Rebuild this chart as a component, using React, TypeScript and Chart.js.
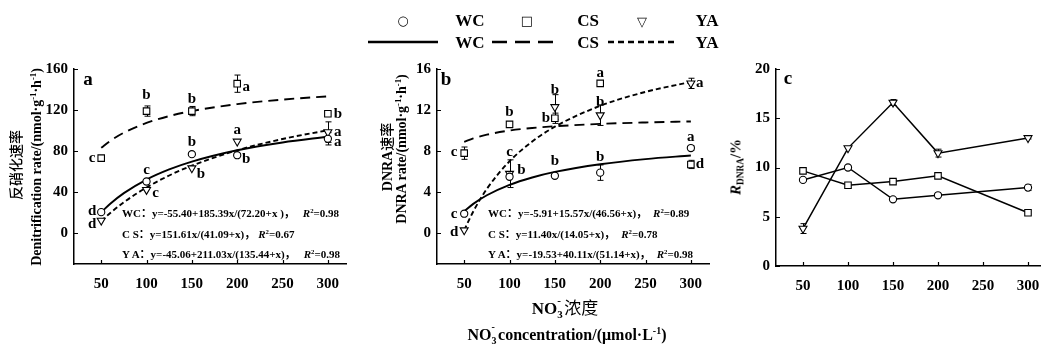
import React, { useEffect, useRef } from "react";
import { Chart, registerables } from "chart.js";
Chart.register(...registerables);

// ---------------- data ----------------
const concentrations = [50, 100, 150, 200, 300];
const xTickValues = [50, 100, 150, 200, 250, 300];

// panel a: denitrification rate (nmol g-1 h-1)
const denitWC = [20.5, 50.4, 77, 76, 92];
const denitCS = [73.2, 119, 119, 145.7, 116.4];
const denitYA = [12.4, 42.3, 63.4, 89.4, 98.5];
const denitErrWC = [0, 0, 0, 0, 6];
const denitErrCS = [0, 5, 4.5, 8.4, 0];
const denitErrYA = [0, 0, 0, 0, 10];
const denitTicks = [0, 40, 80, 120, 160];

// fitted curves read along x
const fitX = [50, 60, 75, 100, 125, 150, 200, 250, 300];
const denitFitWC = [20.45, 28.74, 39.06, 52.26, 62.12, 69.75, 80.82, 88.44, 94.03];
const denitFitCS = [83.22, 89.99, 97.95, 107.45, 114.1, 119.01, 125.77, 130.21, 133.35];
const denitFitYA = [11.84, 19.73, 30.15, 44.57, 56.23, 65.84, 80.76, 91.82, 100.33];

// panel b: DNRA rate
const dnraWC = [1.9, 5.5, 5.6, 5.9, 8.3];
const dnraCS = [7.8, 10.6, 11.2, 14.6, 6.7];
const dnraYA = [0.3, 5.8, 12.3, 11.5, 14.6];
const dnraErrWC = [0, 0, 0, 0.75, 0.2];
const dnraErrCS = [0.6, 0, 0.5, 0, 0.4];
const dnraErrYA = [0, 1.35, 1.2, 1.0, 0.5];
const dnraTicks = [0, 4, 8, 12, 16];
const dnraFitWC = [2.15, 2.86, 3.7, 4.71, 5.43, 5.97, 6.72, 7.22, 7.57];
const dnraFitCS = [8.9, 9.24, 9.6, 10.0, 10.25, 10.42, 10.65, 10.79, 10.89];
const dnraFitYA = [0.3, 2.12, 4.32, 7.01, 8.93, 10.38, 12.41, 13.77, 14.74];

// panel c: R_DNRA (%)
const rWC = [8.74, 10.0, 6.77, 7.18, 7.96];
const rCS = [9.66, 8.2, 8.57, 9.15, 5.4];
const rYA = [3.8, 11.97, 16.6, 11.46, 13.0];
const rErrWC = [0, 0, 0, 0, 0.3];
const rErrCS = [0, 0, 0, 0, 0];
const rErrYA = [0.5, 0, 0.3, 0.4, 0.1];
const rTicks = [0, 5, 10, 15, 20];

// significance letters
const lettersDenitWC = ["d", "c", "b", "b", "a"];
const lettersDenitCS = ["c", "b", "b", "a", "b"];
const lettersDenitYA = ["d", "c", "b", "a", "a"];
const lettersDnraWC = ["c", "b", "b", "b", "a"];
const lettersDnraCS = ["c", "b", "b", "a", "d"];
const lettersDnraYA = ["d", "c", "b", "b", "a"];

// equations
const eqDenit = [
  ["WC：y=-55.40+185.39x/(72.20+x )，", "0.98"],
  ["C S：y=151.61x/(41.09+x)，", "0.67"],
  ["Y A：y=-45.06+211.03x/(135.44+x)，", "0.98"],
];
const eqDnra = [
  ["WC：y=-5.91+15.57x/(46.56+x)，", "0.89"],
  ["C S：y=11.40x/(14.05+x)，", "0.78"],
  ["Y A：y=-19.53+40.11x/(51.14+x)，", "0.98"],
];

// ---------------- layout (pixel offsets of letters) ----------------
const offDenitWC = [[-9, -1], [0, -11], [0, -12], [9, 4], [10, 3]];
const offDenitCS = [[-9, 0], [0, -16], [0, -12], [9, 3], [10, 0]];
const offDenitYA = [[-9, 4], [9, 3], [9, 6], [0, -11], [10, 0]];
const offDnraWC = [[-10, 0], [12, -7], [0, -15], [0, -16], [0, -11]];
const offDnraCS = [[-10, -1], [0, -12], [-9, 0], [0, -10], [9, 0]];
const offDnraYA = [[-10, 2], [0, -22], [0, -17], [0, -13], [9, 0]];

const SERIF = '"Liberation Serif", "Times New Roman", "Noto Sans CJK SC", serif';
const CJK = '"Noto Sans CJK SC", sans-serif';

type ErrSpec = { vals: number[]; errs: number[] };
type LetterSpec = { vals: number[]; letters: string[]; offs: number[][] };

function makeOverlay(errors: ErrSpec[], letters: LetterSpec[]) {
  return {
    id: "overlay",
    beforeDatasetsDraw(chart: any) {
      const ctx = chart.ctx;
      const xs = chart.scales.x;
      const ys = chart.scales.y;
      ctx.save();
      ctx.strokeStyle = "#000";
      ctx.lineWidth = 1;
      errors.forEach((e) => {
        e.vals.forEach((v, i) => {
          const err = e.errs[i];
          if (!err) return;
          const px = Math.round(xs.getPixelForValue(concentrations[i])) + 0.5;
          const y1 = ys.getPixelForValue(v + err);
          const y2 = ys.getPixelForValue(v - err);
          ctx.beginPath();
          ctx.moveTo(px, y1);
          ctx.lineTo(px, y2);
          ctx.moveTo(px - 3, y1);
          ctx.lineTo(px + 3, y1);
          ctx.moveTo(px - 3, y2);
          ctx.lineTo(px + 3, y2);
          ctx.stroke();
        });
      });
      ctx.restore();
    },
    afterDraw(chart: any) {
      const ctx = chart.ctx;
      const xs = chart.scales.x;
      const ys = chart.scales.y;
      const area = chart.chartArea;
      ctx.save();
      ctx.strokeStyle = "#000";
      ctx.lineWidth = 1.2;
      ctx.beginPath();
      xs.ticks.forEach((t: any) => {
        const px = Math.round(xs.getPixelForValue(t.value)) + 0.5;
        ctx.moveTo(px, area.bottom);
        ctx.lineTo(px, area.bottom - 4);
      });
      ys.ticks.forEach((t: any) => {
        const py = Math.round(ys.getPixelForValue(t.value)) + 0.5;
        ctx.moveTo(area.left, py);
        ctx.lineTo(area.left + 4, py);
      });
      ctx.stroke();
      ctx.fillStyle = "#000";
      ctx.font = `bold 15px ${SERIF}`;
      ctx.textAlign = "center";
      ctx.textBaseline = "middle";
      letters.forEach((l) => {
        l.vals.forEach((v, i) => {
          const px = xs.getPixelForValue(concentrations[i]) + l.offs[i][0];
          const py = ys.getPixelForValue(v) + l.offs[i][1];
          ctx.fillText(l.letters[i], px, py);
        });
      });
      ctx.restore();
    },
  };
}

const tickFont = { family: SERIF, size: 15, weight: "bold" as const };

function pointSet(vals: number[], style: string, line: boolean) {
  const isTri = style === "triangle";
  return {
    data: concentrations.map((x, i) => ({ x, y: vals[i] })),
    pointStyle: style,
    pointRotation: isTri ? 180 : 0,
    pointRadius: style === "circle" ? 3.6 : 4.6,
    pointBorderWidth: 1.1,
    pointBackgroundColor: "#fff",
    pointBorderColor: "#000",
    showLine: line,
    borderColor: "#000",
    borderWidth: 1.5,
  };
}

function curveSet(vals: number[], dash: number[]) {
  return {
    data: fitX.map((x, i) => ({ x, y: vals[i] })),
    showLine: true,
    pointRadius: 0,
    borderColor: "#000",
    borderWidth: 1.9,
    borderDash: dash,
    cubicInterpolationMode: "monotone" as const,
  };
}

function makeConfig(opts: {
  datasets: any[];
  yMin: number;
  yMax: number;
  yTicks: number[];
  pad: { left: number; right: number; top: number; bottom: number };
  errors: ErrSpec[];
  letters: LetterSpec[];
}) {
  return {
    type: "scatter" as const,
    data: { datasets: opts.datasets },
    plugins: [makeOverlay(opts.errors, opts.letters)],
    options: {
      animation: false as const,
      responsive: false,
      devicePixelRatio: 1,
      layout: { padding: opts.pad },
      plugins: { legend: { display: false }, tooltip: { enabled: false } },
      events: [],
      scales: {
        x: {
          type: "linear" as const,
          min: 20,
          max: 320,
          afterBuildTicks: (s: any) => {
            s.ticks = xTickValues.map((v) => ({ value: v }));
          },
          afterFit: (s: any) => {
            s.height = 30;
          },
          grid: { display: false, drawTicks: false },
          border: { display: true, color: "#000", width: 1.5 },
          ticks: { color: "#000", font: tickFont, padding: 11, maxRotation: 0 },
        },
        y: {
          type: "linear" as const,
          min: opts.yMin,
          max: opts.yMax,
          afterBuildTicks: (s: any) => {
            s.ticks = opts.yTicks.map((v) => ({ value: v }));
          },
          afterFit: (s: any) => {
            s.width = 40;
          },
          grid: { display: false, drawTicks: false },
          border: { display: true, color: "#000", width: 1.5 },
          ticks: { color: "#000", font: tickFont, padding: 6 },
        },
      },
    },
  };
}

function Panel({ left, width, build }: { left: number; width: number; build: () => any }) {
  const ref = useRef<HTMLCanvasElement>(null);
  useEffect(() => {
    const chart = new Chart(ref.current as HTMLCanvasElement, build());
    return () => chart.destroy();
  }, []);
  return (
    <canvas
      ref={ref}
      width={width}
      height={347}
      style={{ position: "absolute", left, top: 0, width, height: 347 }}
    />
  );
}

const buildA = () =>
  makeConfig({
    datasets: [
      pointSet(denitWC, "circle", false),
      pointSet(denitCS, "rect", false),
      pointSet(denitYA, "triangle", false),
      curveSet(denitFitWC, []),
      curveSet(denitFitCS, [10, 6]),
      curveSet(denitFitYA, [5, 3]),
    ],
    yMin: -30,
    yMax: 160,
    yTicks: denitTicks,
    pad: { left: 34, right: 14, top: 69, bottom: 53 },
    errors: [
      { vals: denitWC, errs: denitErrWC },
      { vals: denitCS, errs: denitErrCS },
      { vals: denitYA, errs: denitErrYA },
    ],
    letters: [
      { vals: denitWC, letters: lettersDenitWC, offs: offDenitWC },
      { vals: denitCS, letters: lettersDenitCS, offs: offDenitCS },
      { vals: denitYA, letters: lettersDenitYA, offs: offDenitYA },
    ],
  });

const buildB = () =>
  makeConfig({
    datasets: [
      pointSet(dnraWC, "circle", false),
      pointSet(dnraCS, "rect", false),
      pointSet(dnraYA, "triangle", false),
      curveSet(dnraFitWC, []),
      curveSet(dnraFitCS, [10, 6]),
      curveSet(dnraFitYA, [5, 3]),
    ],
    yMin: -3,
    yMax: 16,
    yTicks: dnraTicks,
    pad: { left: 37, right: 11, top: 69, bottom: 53 },
    errors: [
      { vals: dnraWC, errs: dnraErrWC },
      { vals: dnraCS, errs: dnraErrCS },
      { vals: dnraYA, errs: dnraErrYA },
    ],
    letters: [
      { vals: dnraWC, letters: lettersDnraWC, offs: offDnraWC },
      { vals: dnraCS, letters: lettersDnraCS, offs: offDnraCS },
      { vals: dnraYA, letters: lettersDnraYA, offs: offDnraYA },
    ],
  });

const buildC = () =>
  makeConfig({
    datasets: [
      pointSet(rWC, "circle", true),
      pointSet(rCS, "rect", true),
      pointSet(rYA, "triangle", true),
    ],
    yMin: 0,
    yMax: 20,
    yTicks: rTicks,
    pad: { left: 16, right: 14, top: 69, bottom: 51 },
    errors: [
      { vals: rWC, errs: rErrWC },
      { vals: rCS, errs: rErrCS },
      { vals: rYA, errs: rErrYA },
    ],
    letters: [],
  });

// ---------------- HTML text helpers ----------------
function Centered({ x, y, children, style }: any) {
  return (
    <div
      style={{
        position: "absolute",
        left: x,
        top: y,
        transform: "translate(-50%,-50%)",
        whiteSpace: "nowrap",
        lineHeight: 1,
        ...style,
      }}
    >
      {children}
    </div>
  );
}

function Vertical({ x, y, children, style }: any) {
  return (
    <div
      style={{
        position: "absolute",
        left: x,
        top: y,
        transform: "translate(-50%,-50%) rotate(-90deg)",
        whiteSpace: "nowrap",
        lineHeight: 1,
        ...style,
      }}
    >
      {children}
    </div>
  );
}

const supStyle: React.CSSProperties = { fontSize: "0.62em", verticalAlign: "0.55em", lineHeight: 0 };

// stacked superscript/subscript (e.g. NO3-), size in px of parent font
function Stack({ sup, sub, size }: { sup: string; sub: string; size: number }) {
  const s = Math.round(size * 0.62);
  return (
    <span
      style={{
        position: "relative",
        display: "inline-block",
        width: s * 0.55,
        height: size,
        marginRight: 1,
      }}
    >
      <span style={{ position: "absolute", left: 0, top: -size * 0.12, fontSize: s, lineHeight: 1 }}>{sup}</span>
      <span style={{ position: "absolute", left: 0, top: size * 0.72, fontSize: s, lineHeight: 1 }}>{sub}</span>
    </span>
  );
}

function Equations({ x, rows, gap }: { x: number; rows: string[][]; gap: number[] }) {
  const ys = [213, 234, 254];
  return (
    <>
      {rows.map((r, i) => (
        <div
          key={i}
          style={{
            position: "absolute",
            left: x,
            top: ys[i],
            transform: "translateY(-50%)",
            whiteSpace: "nowrap",
            fontFamily: SERIF,
            fontWeight: "bold",
            fontSize: 11,
            lineHeight: 1,
          }}
        >
          {r[0]}
          <span style={{ display: "inline-block", width: gap[i] }} />
          <i>R</i>
          <span style={supStyle}>2</span>=
          {r[1]}
        </div>
      ))}
    </>
  );
}

const boldSerif: React.CSSProperties = { fontFamily: SERIF, fontWeight: "bold" };

export default function App() {
  return (
    <div
      style={{
        position: "absolute",
        left: 0,
        top: 0,
        width: 1041,
        height: 347,
        overflow: "hidden",
        background: "#fff",
        color: "#000",
      }}
    >
      <Panel left={0} width={360} build={buildA} />
      <Panel left={360} width={360} build={buildB} />
      <Panel left={720} width={340} build={buildC} />

      {/* legend */}
      <svg width={1041} height={60} style={{ position: "absolute", left: 0, top: 0 }}>
        <line x1={368} y1={42} x2={438} y2={42} stroke="#000" strokeWidth={2.5} />
        <line x1={492} y1={42} x2={553} y2={42} stroke="#000" strokeWidth={2.5} strokeDasharray="15 8" />
        <line x1={608} y1={42} x2={677} y2={42} stroke="#000" strokeWidth={2.5} strokeDasharray="6 4" />
      </svg>
      <Centered x={403} y={20} style={{ fontFamily: "DejaVu Sans", fontSize: 13 }}>○</Centered>
      <Centered x={527} y={20} style={{ fontFamily: "DejaVu Sans", fontSize: 13 }}>□</Centered>
      <Centered x={642} y={21} style={{ fontFamily: "DejaVu Sans", fontSize: 13 }}>▽</Centered>
      {[20, 42].map((y) => (
        <React.Fragment key={y}>
          <Centered x={470} y={y} style={{ ...boldSerif, fontSize: 17 }}>WC</Centered>
          <Centered x={588} y={y} style={{ ...boldSerif, fontSize: 17 }}>CS</Centered>
          <Centered x={707} y={y} style={{ ...boldSerif, fontSize: 17 }}>YA</Centered>
        </React.Fragment>
      ))}

      {/* panel labels */}
      <Centered x={88} y={78} style={{ ...boldSerif, fontSize: 19 }}>a</Centered>
      <Centered x={446} y={78} style={{ ...boldSerif, fontSize: 19 }}>b</Centered>
      <Centered x={788} y={77} style={{ ...boldSerif, fontSize: 19 }}>c</Centered>

      {/* y-axis titles */}
      <Vertical x={15} y={165} style={{ fontFamily: CJK, fontSize: 14, fontWeight: 500 }}>反硝化速率</Vertical>
      <Vertical x={37} y={167} style={{ ...boldSerif, fontSize: 14 }}>
        Denitrification rate/(nmol·g<span style={supStyle}>-1</span>·h<span style={supStyle}>-1</span>)
      </Vertical>
      <Vertical x={387} y={157} style={{ ...boldSerif, fontSize: 14 }}>
        DNRA<span style={{ fontFamily: CJK, fontWeight: 500 }}>速率</span>
      </Vertical>
      <Vertical x={402} y={149} style={{ ...boldSerif, fontSize: 14 }}>
        DNRA rate/(nmol·g<span style={supStyle}>-1</span>·h<span style={supStyle}>-1</span>)
      </Vertical>
      <Vertical x={737} y={167} style={{ ...boldSerif, fontSize: 15 }}>
        <i>R</i>
        <span style={{ fontSize: "0.62em", verticalAlign: "-0.3em" }}>DNRA</span>/%
      </Vertical>

      {/* equations */}
      <Equations x={122} rows={eqDenit} gap={[8, 3, 8]} />
      <Equations x={488} rows={eqDnra} gap={[6, 6, 6]} />

      {/* x-axis title */}
      <Centered x={565} y={307} style={{ ...boldSerif, fontSize: 17 }}>
        NO<Stack sup="-" sub="3" size={17} />
        <span style={{ fontFamily: CJK, fontWeight: 400 }}>浓度</span>
      </Centered>
      <Centered x={567} y={333} style={{ ...boldSerif, fontSize: 16 }}>
        NO<Stack sup="-" sub="3" size={16} />concentration/(μmol·L<span style={supStyle}>-1</span>)
      </Centered>
    </div>
  );
}
